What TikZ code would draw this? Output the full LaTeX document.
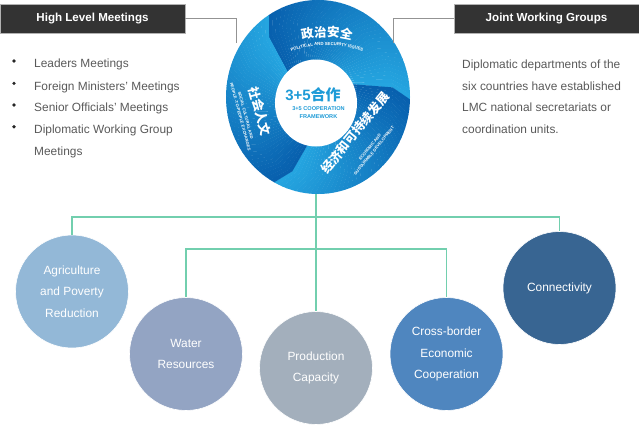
\documentclass[tikz,border=0pt]{standalone}
\usepackage{fontspec}
\setmainfont{Liberation Sans}
\newfontfamily\cjk{Noto Sans CJK SC}
\usetikzlibrary{decorations.text}
\definecolor{ringdark}{HTML}{0860AE}
\definecolor{ringlight}{HTML}{25A5E0}
\definecolor{hdr}{HTML}{333333}
\definecolor{txtgray}{HTML}{595959}
\definecolor{mint}{HTML}{72CFAE}
\definecolor{cAgri}{HTML}{93B8D7}
\definecolor{cWater}{HTML}{93A4C3}
\definecolor{cProd}{HTML}{A3AFBC}
\definecolor{cCross}{HTML}{4F86BF}
\definecolor{cConn}{HTML}{386592}
\definecolor{cblue}{HTML}{1E9BD7}
\begin{document}
\begin{tikzpicture}[x=1pt,y=-1pt,
  hdrbox/.style={fill=hdr, draw=gray!60, line width=0.8pt, text=white,
    font=\bfseries\fontsize{11.6}{12}\selectfont, minimum width=185pt, minimum height=29pt, inner sep=0pt},
  listtext/.style={anchor=base west, text=txtgray, font=\fontsize{11.9}{12}\selectfont, inner sep=0pt},
  dot/.style={circle, fill=black!85, minimum size=3.6pt, inner sep=0pt},
  bubble/.style={circle, minimum size=113pt, inner sep=0pt, text=white, align=center,
    font=\fontsize{11.9}{21.6}\selectfont, draw=white, line width=0.6pt},
  link/.style={draw=mint, line width=1.4pt},
  bracket/.style={draw=gray!85, line width=0.9pt},
  ringcn/.style={text=white, font=\cjk\bfseries\fontsize{12.5}{13}\selectfont, inner sep=0pt},
  ringen/.style={text=white, font=\bfseries\fontsize{4.1}{5.4}\selectfont, inner sep=0pt, align=center}
]
\useasboundingbox (0,0) rectangle (639,428);

% ---- ring with swirl sectors ----
\begin{scope}
\clip (318,97) ellipse [x radius=92, y radius=97];
\foreach \A/\B in {117/-7, 353/236, 236/117}{
  \foreach \i in {0,...,39}{
    \pgfmathsetmacro\aa{\A-(\A-\B)*\i/40}
    \pgfmathsetmacro\ab{\A-(\A-\B)*(\i+1.08)/40}
    \pgfmathsetmacro\p{100*\i/39}
    \fill[ringlight!\p!ringdark]
      ({318+110*cos(\aa)},{97-1.054*110*sin(\aa)})
      -- ({318+75*cos(\aa+14)},{97-1.054*75*sin(\aa+14)})
      -- ({318+30*cos(\aa+32)},{97-1.054*30*sin(\aa+32)})
      -- ({318+30*cos(\ab+32)},{97-1.054*30*sin(\ab+32)})
      -- ({318+75*cos(\ab+14)},{97-1.054*75*sin(\ab+14)})
      -- ({318+110*cos(\ab)},{97-1.054*110*sin(\ab)}) -- cycle;
  }
}
\end{scope}
\fill[white] (316,103) ellipse [x radius=41, y radius=43.5];
\coordinate (ringbot) at (316,194);

% ring texts
\path[decorate, decoration={text along path, text align=center,
  text={|\cjk\bfseries\fontsize{12.5}{13}\selectfont\color{white}|政治安全}}]
  plot[domain=0:1, samples=30, variable=\u] ({327+104*cos(130-80*\u)}, {141-104*sin(130-80*\u)});
\path[decorate, decoration={text along path, text align=center,
  text={|\bfseries\fontsize{4.3}{5}\selectfont\color{white}|POLITICAL AND SECURITY ISSUES}}]
  plot[domain=0:1, samples=30, variable=\u] ({327+96*cos(130-80*\u)}, {141-96*sin(130-80*\u)});

\node[ringcn, rotate=51] (econcn) at (355,133) {经济和可持续发展};
\node[ringen, rotate=51] (econen) at (372,149) {ECONOMIC AND\\SUSTAINABLE DEVELOPMENT};

\node[ringcn, rotate=-75] (soccn) at (260,111) {社会人文};
\node[ringen, rotate=-75] (socen) at (243,116) {SOCIAL CULTURAL AND\\PEOPLE -TO-PEOPLE EXCHANGES};

\node[text=cblue, font=\bfseries\fontsize{15}{16}\selectfont, inner sep=0pt] (c35) at (313,95) {3+5{\cjk 合作}};
\node[text=cblue, font=\bfseries\fontsize{5.6}{8}\selectfont, inner sep=0pt, align=center] (fw) at (318.5,113) {3+5 COOPERATION\\FRAMEWORK};

% ---- headers ----
\node[hdrbox] (hlm) at (92.5,18.5) {High Level Meetings};
\node[hdrbox] (jwg) at (546.5,18.5) {Joint Working Groups};
\coordinate (lb) at (236,43);
\coordinate (rb) at (393,43);
\draw[bracket] (hlm.east) -| (lb);
\draw[bracket] (jwg.west) -| (rb);

% ---- left list ----
\node[dot] (d1) at (14,61) {};
\node[dot] (d2) at (14,83.3) {};
\node[dot] (d3) at (14,105) {};
\node[dot] (d4) at (14,126.7) {};
\node[listtext] (l1) at (34,67.7) {Leaders Meetings};
\node[listtext] (l2) at (34,90) {Foreign Ministers’ Meetings};
\node[listtext] (l3) at (34,111.7) {Senior Officials’ Meetings};
\node[listtext] (l4) at (34,133.3) {Diplomatic Working Group};
\node[listtext] (l5) at (34,155) {Meetings};

% ---- right text ----
\node[listtext] (r1) at (462,68) {Diplomatic departments of the};
\node[listtext] (r2) at (462,90) {six countries have established};
\node[listtext] (r3) at (462,111.7) {LMC national secretariats or};
\node[listtext] (r4) at (462,133.3) {coordination units.};

% ---- bubbles ----
\node[bubble, fill=cAgri] (agri) at (72,291.5) {Agriculture\\and Poverty\\Reduction};
\node[bubble, fill=cWater] (water) at (186,354) {Water\\Resources};
\node[bubble, fill=cProd] (prod) at (316,368) {Production\\Capacity};
\node[bubble, fill=cCross] (cross) at (446.5,354) {Cross-border\\Economic\\Cooperation};
\node[bubble, fill=cConn] (conn) at (559.5,288) {Connectivity};

% ---- connectors ----
\coordinate (bus1) at (316,217);
\coordinate (bus2) at (316,249);
\draw[link] (ringbot) -- (prod.north);
\draw[link] (agri.north) -- (agri.north |- bus1) -- (conn.north |- bus1) -- (conn.north);
\draw[link] (water.north) -- (water.north |- bus2) -- (cross.north |- bus2) -- (cross.north);
\end{tikzpicture}
\end{document}
